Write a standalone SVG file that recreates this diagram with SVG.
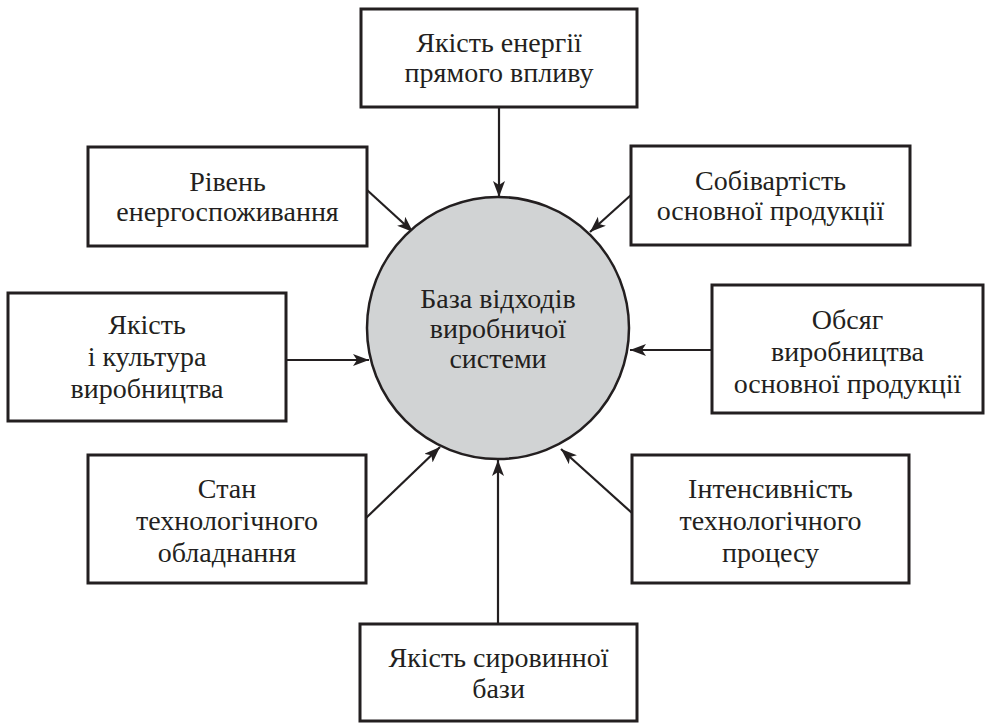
<svg xmlns="http://www.w3.org/2000/svg" width="988" height="723" viewBox="0 0 988 723">
<defs>
<marker id="arr" markerUnits="userSpaceOnUse" markerWidth="18" markerHeight="14" refX="16" refY="6" orient="auto">
<path d="M0,0 L16,6 L0,12 L4,6 Z" fill="#231f20"/>
</marker>
<style>
.box{fill:#fff;stroke:#231f20;stroke-width:3}
.hub{fill:#d1d3d4;stroke:#231f20;stroke-width:2.5}
.t{font-family:"Liberation Serif","DejaVu Serif","FreeSerif","Noto Serif","Tinos","Times New Roman",serif;font-size:28px;fill:#231f20;text-anchor:middle}
.c{stroke:#231f20;stroke-width:2.2;fill:none;marker-end:url(#arr)}
</style>
</defs>
<rect width="988" height="723" fill="#fff"/>
<g id="connectors">
<line class="c" x1="499" y1="107" x2="499" y2="197"/>
<line class="c" x1="367" y1="190" x2="413" y2="232"/>
<line class="c" x1="631" y1="195" x2="590" y2="232"/>
<line class="c" x1="286" y1="360" x2="369" y2="360"/>
<line class="c" x1="712" y1="350" x2="630" y2="350"/>
<line class="c" x1="366" y1="518" x2="440" y2="447"/>
<line class="c" x1="632" y1="513" x2="561" y2="449"/>
<line class="c" x1="498" y1="624" x2="498" y2="460"/>
</g>
<g id="hub">
<circle class="hub" cx="498" cy="328" r="131"/>
<text class="t" x="498" y="308">База відходів</text>
<text class="t" x="498" y="338">виробничої</text>
<text class="t" x="498" y="368">системи</text>
</g>
<g id="n1">
<rect class="box" x="361" y="9" width="276" height="98"/>
<text class="t" x="499" y="52">Якість енергії</text>
<text class="t" x="499" y="82">прямого впливу</text>
</g>
<g id="n2">
<rect class="box" x="88" y="147" width="279" height="99"/>
<text class="t" x="227.5" y="191">Рівень</text>
<text class="t" x="227.5" y="221">енергоспоживання</text>
</g>
<g id="n3">
<rect class="box" x="631" y="146" width="279" height="99"/>
<text class="t" x="770.5" y="190">Собівартість</text>
<text class="t" x="770.5" y="220">основної продукції</text>
</g>
<g id="n4">
<rect class="box" x="8" y="293" width="278" height="128"/>
<text class="t" x="147" y="334">Якість</text>
<text class="t" x="147" y="366">і культура</text>
<text class="t" x="147" y="398">виробництва</text>
</g>
<g id="n5">
<rect class="box" x="712" y="285" width="271" height="128"/>
<text class="t" x="847.5" y="329">Обсяг</text>
<text class="t" x="847.5" y="361">виробництва</text>
<text class="t" x="847.5" y="393">основної продукції</text>
</g>
<g id="n6">
<rect class="box" x="88" y="455" width="278" height="128"/>
<text class="t" x="227" y="498">Стан</text>
<text class="t" x="227" y="530">технологічного</text>
<text class="t" x="227" y="562">обладнання</text>
</g>
<g id="n7">
<rect class="box" x="632" y="455" width="277" height="128"/>
<text class="t" x="770.5" y="498">Інтенсивність</text>
<text class="t" x="770.5" y="530">технологічного</text>
<text class="t" x="770.5" y="562">процесу</text>
</g>
<g id="n8">
<rect class="box" x="360" y="624" width="277" height="97"/>
<text class="t" x="498.5" y="667">Якість сировинної</text>
<text class="t" x="498.5" y="698">бази</text>
</g>
</svg>
